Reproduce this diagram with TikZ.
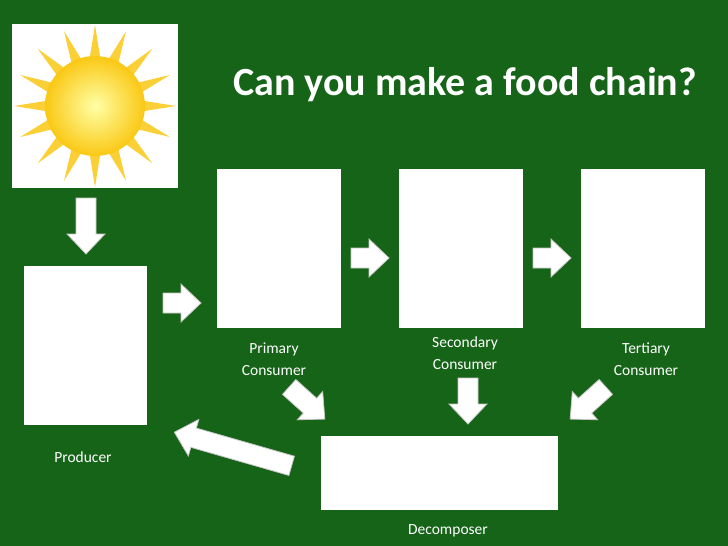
\documentclass[tikz,border=0pt]{standalone}
\usepackage{fontspec}
\setmainfont{Carlito}
\usetikzlibrary{shapes.geometric}
\definecolor{bggreen}{RGB}{22,100,24}
\definecolor{sunyellow}{RGB}{250,200,20}
% block arrow: name, x, y, angle, length
\newcommand\blockarr[5]{%
  \begin{scope}[shift={(#2,#3)},rotate=#4]
    \coordinate (#1) at (0,0);
    \filldraw[fill=white,draw=gray!45,line width=0.8pt]
      (-#5/2,-10) -- (#5/2-20,-10) -- (#5/2-20,-19) -- (#5/2,0)
      -- (#5/2-20,19) -- (#5/2-20,10) -- (-#5/2,10) -- cycle;
  \end{scope}}

\begin{document}
\begin{tikzpicture}[x=1pt,y=-1pt,
                every node/.style={inner sep=0pt},
                card/.style={fill=white,anchor=north west},
                caption/.style={text=white,font=\fontsize{15.5}{22}\selectfont,align=center}]
  \fill[bggreen] (0,0) rectangle (728,546);
  % sun
  \node[card,minimum width=166pt,minimum height=164pt] (sunbox) at (12,24) {};
  \node[star,star points=16,star point ratio=2.2,minimum size=162pt,fill=sunyellow!85] (rays) at (95,106) {};
  \shade[inner color=yellow!35,outer color=sunyellow] (95,106) circle (50);
  % title
  \node[text=white,font=\bfseries\fontsize{40}{46}\selectfont] (title) at (465,85) {Can you make a food chain?};
  % boxes
  \node[card,minimum width=123pt,minimum height=159pt] (producer)  at (24,266) {};
  \node[card,minimum width=124pt,minimum height=159pt] (primary)   at (217,169) {};
  \node[card,minimum width=124pt,minimum height=159pt] (secondary) at (399,169) {};
  \node[card,minimum width=124pt,minimum height=159pt] (tertiary)  at (581,169) {};
  \node[card,minimum width=237pt,minimum height=74pt]  (decomp)    at (321,436) {};
  % labels
  \node[caption] (lprod) at (83,457) {Producer};
  \node[caption] (lprim) at (274,359) {Primary\\Consumer};
  \node[caption] (lsec)  at (465,353) {Secondary\\Consumer};
  \node[caption] (lter)  at (646,359) {Tertiary\\Consumer};
  \node[caption] (ldec)  at (448,531) {Decomposer};
  % arrows
  \blockarr{a1}{86}{226}{-90}{56}
  \blockarr{a2}{182}{303}{0}{38}
  \blockarr{a3}{370}{258}{0}{38}
  \blockarr{a4}{552}{258}{0}{38}
  \blockarr{a5}{307}{403}{-42}{48}
  \blockarr{a6}{468}{401}{-90}{46}
  \blockarr{a7}{588}{403}{-138}{48}
  \blockarr{a8}{233}{449}{164}{122}
\end{tikzpicture}
\end{document}
